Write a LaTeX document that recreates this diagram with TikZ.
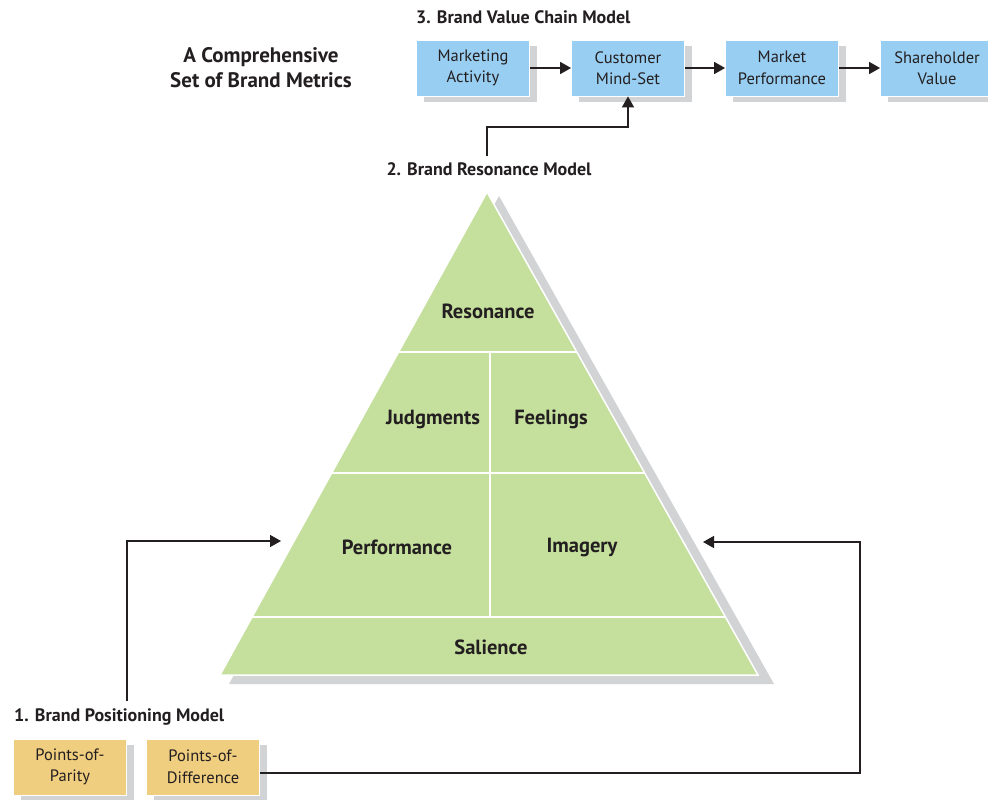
\documentclass[tikz,border=0pt]{standalone}
\usepackage{fontspec}
\setmainfont{PT Sans}
\usetikzlibrary{arrows.meta,shadows,calc}
\definecolor{pgreen}{RGB}{197,223,157}
\definecolor{pblue}{RGB}{152,206,241}
\definecolor{ptan}{RGB}{240,206,128}
\definecolor{pgrey}{RGB}{209,211,212}
\definecolor{ptext}{RGB}{35,31,32}
\tikzset{
  mbox/.style={rectangle, minimum width=113pt, minimum height=56pt, inner sep=0pt,
    align=center, text=ptext, draw=white, line width=0.8pt,
    font=\fontsize{16.5}{21.5}\selectfont,
    drop shadow={shadow xshift=7pt, shadow yshift=-6pt, fill=pgrey, opacity=1}},
  bluebox/.style={mbox, fill=pblue},
  tanbox/.style={mbox, fill=ptan},
  lbl/.style={text=ptext, font=\fontsize{18}{21}\bfseries\selectfont, inner sep=0pt},
  tier/.style={text=ptext, font=\fontsize{20.5}{24}\bfseries\selectfont, inner sep=0pt},
  arr/.style={draw=ptext, line width=1.5pt, -{Triangle[length=11pt,width=12pt]}},
}
\begin{document}
\begin{tikzpicture}[x=1pt,y=-1pt]
\clip (0,0) rectangle (988,800);
\fill[white] (0,0) rectangle (988,800);

% heading
\node[text=ptext, font=\fontsize{21}{25}\bfseries\selectfont, align=center, inner sep=0pt] (head) at (261,68) {A Comprehensive\\Set of Brand Metrics};

% top chain
\node[lbl, anchor=west] (l3) at (416,17) {3. Brand Value Chain Model};
\node[bluebox] (mkt) at (473,68) {Marketing\\Activity};
\node[bluebox] (cms) at (628,68) {Customer\\Mind-Set};
\node[bluebox] (mp) at (782,68) {Market\\Performance};
\node[bluebox] (sv) at (937,68) {Shareholder\\Value};
\draw[arr] (mkt) -- (cms);
\draw[arr] (cms) -- (mp);
\draw[arr] (mp) -- (sv);

% resonance label
\node[lbl] (l2) at (489,169) {2. Brand Resonance Model};
\coordinate (r1) at (487,156);
\draw[arr] (r1) -- (487,127) -| (cms.south);

% pyramid
\coordinate (apex) at (487,192);
\coordinate (bl) at (220,675);
\coordinate (br) at (758,675);
\fill[pgrey] (499,196) -- (774,684) -- (229,684) -- cycle;
\fill[pgreen, draw=white, line width=1.5pt] (apex) -- (br) -- (bl) -- cycle;
\draw[white, line width=2.2pt] (398.5,352) -- (576.8,352);
\draw[white, line width=2.2pt] (331.7,473) -- (644.7,473);
\draw[white, line width=2.2pt] (252.1,617) -- (725.5,617);
\draw[white, line width=2.2pt] (490,352) -- (490,617);

\node[tier] (res) at (488,311) {Resonance};
\node[tier] (jud) at (433,419) {Judgments};
\node[tier] (fee) at (551,419) {Feelings};
\node[tier] (perf) at (397,547) {Performance};
\node[tier] (img) at (582,547) {Imagery};
\node[tier] (sal) at (491,647) {Salience};

% positioning
\node[lbl, anchor=west] (l1) at (14,717) {1. Brand Positioning Model};
\node[tanbox] (pop) at (70,767) {Points-of-\\Parity};
\node[tanbox] (pod) at (203,767) {Points-of-\\Difference};

\coordinate (lstart) at (127,701);
\coordinate (ltip) at (281,541);
\draw[arr] (lstart) |- (ltip);

\coordinate (rcorner) at (860,542);
\coordinate (rtip) at (703,542);
\draw[arr] ([yshift=-6pt]pod.east) -| (rcorner) -- (rtip);
\end{tikzpicture}
\end{document}
